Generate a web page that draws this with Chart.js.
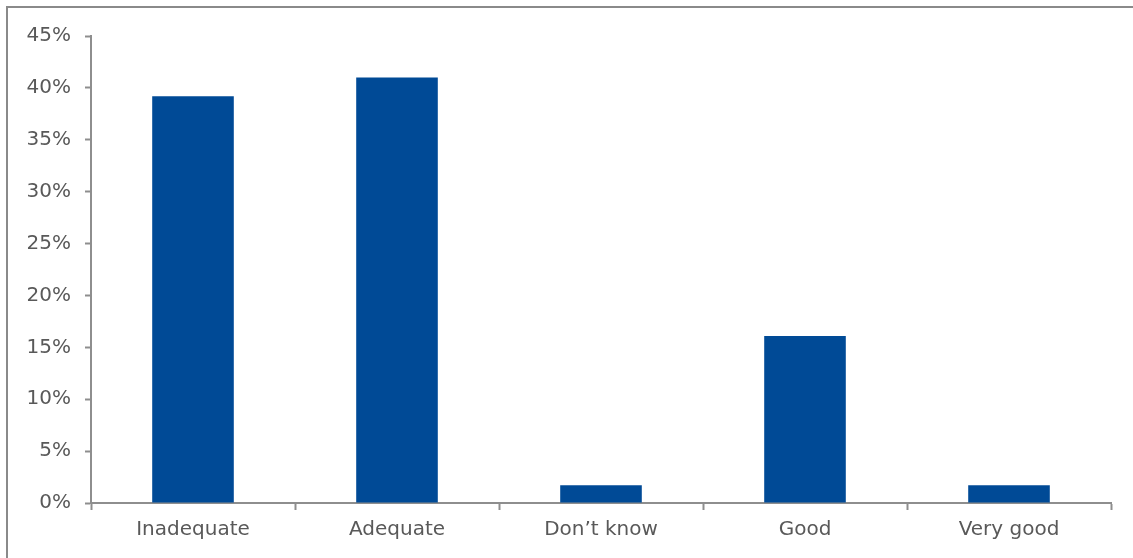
<!DOCTYPE html>
<html>
<head>
<meta charset="utf-8">
<script src="https://cdn.jsdelivr.net/npm/chart.js@4/dist/chart.umd.min.js"></script>
<style>
  html, body { margin: 0; padding: 0; background: #ffffff; }
  #wrap { position: relative; width: 1133px; height: 558px; }
</style>
</head>
<body>
<div id="wrap"><canvas id="c" width="1133" height="558"></canvas></div>
<script>
const categories = ['Inadequate', 'Adequate', 'Don\u2019t know', 'Good', 'Very good'];
const shares = [39.2, 41.0, 1.7, 16.1, 1.7];
const yTicks = [0, 5, 10, 15, 20, 25, 30, 35, 40, 45];

const axisGrey = '#8e8e8e';
const labelGrey = '#595959';
const fontFamily = '"DejaVu Sans", "Open Sans", sans-serif';

// Thin frame along the left and top edges of the figure
const framePlugin = {
  id: 'frame',
  beforeDraw(chart) {
    const ctx = chart.ctx;
    ctx.save();
    ctx.fillStyle = '#ffffff';
    ctx.fillRect(0, 0, chart.width, chart.height);
    ctx.strokeStyle = '#8a8a8a';
    ctx.lineWidth = 2;
    ctx.beginPath();
    ctx.moveTo(7, chart.height);
    ctx.lineTo(7, 7);
    ctx.lineTo(chart.width, 7);
    ctx.stroke();
    ctx.restore();
  }
};

new Chart(document.getElementById('c'), {
  type: 'bar',
  data: {
    labels: categories,
    datasets: [{
      data: shares,
      backgroundColor: '#004a96',
      borderWidth: 0,
      barPercentage: 0.4,
      categoryPercentage: 1.0
    }]
  },
  options: {
    responsive: false,
    animation: false,
    events: [],
    layout: { padding: { left: 0, right: 22, top: 36, bottom: 0 } },
    plugins: {
      legend: { display: false },
      tooltip: { enabled: false }
    },
    scales: {
      x: {
        offset: true,
        grid: {
          offset: true,
          drawOnChartArea: false,
          drawTicks: true,
          tickLength: 7,
          tickWidth: 2,
          color: axisGrey
        },
        border: { display: true, color: axisGrey, width: 2 },
        ticks: {
          color: labelGrey,
          font: { family: fontFamily, size: 20 },
          padding: 8,
          maxRotation: 0
        },
        afterFit(scale) { scale.height = 55; }
      },
      y: {
        min: 0,
        max: 45,
        afterBuildTicks(scale) {
          scale.ticks = yTicks.map(v => ({ value: v }));
        },
        grid: {
          drawOnChartArea: false,
          drawTicks: true,
          tickLength: 6,
          tickWidth: 2,
          color: axisGrey
        },
        border: { display: true, color: axisGrey, width: 2 },
        ticks: {
          color: labelGrey,
          font: { family: fontFamily, size: 20 },
          padding: 14,
          callback: v => v + '%'
        },
        afterFit(scale) { scale.width = 91; }
      }
    }
  },
  plugins: [framePlugin]
});
</script>
</body>
</html>
